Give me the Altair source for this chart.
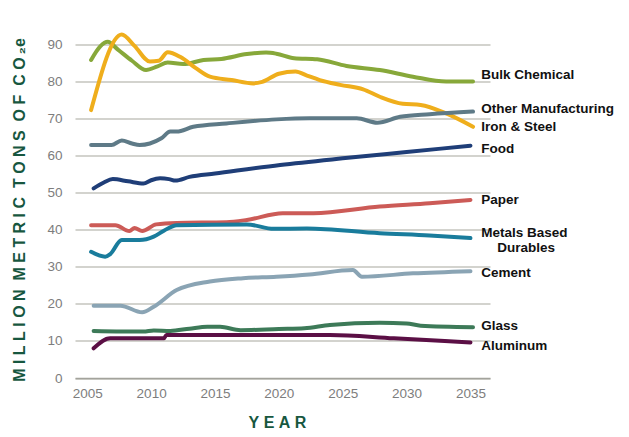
import altair as alt
import pandas as pd

# ---- data ----
series_names = ["Bulk Chemical", "Iron & Steel", "Other Manufacturing", "Food", "Paper",
                "Metals Based Durables", "Cement", "Glass", "Aluminum"]
series_colors = ["#87a83a", "#efae1c", "#5e7a87", "#1f3e78", "#cc5b57",
                 "#197c9c", "#8aa4b4", "#3d7a58", "#5b0f45"]

bulk_years = [2005.3, 2006.0, 2006.6, 2007.4, 2008.5, 2009.6, 2010.5, 2011.3, 2012.5, 2014.1, 2015.5,
              2017.5, 2019.0, 2019.8, 2021.2, 2023.0, 2025.3, 2027.9, 2030.5, 2033.1, 2035.2]
bulk_vals = [85.7, 89.3, 90.6, 88.5, 85.5, 83.0, 84.0, 85.0, 84.6, 85.7, 86.0,
             87.3, 87.7, 87.4, 86.2, 85.9, 84.1, 83.0, 81.2, 79.9, 79.9]

iron_years = [2005.3, 2007.7, 2008.7, 2009.9, 2010.6, 2011.3, 2012.3, 2013.5, 2014.6, 2016.3, 2018.0,
              2018.7, 2020.0, 2021.3, 2022.2, 2023.2, 2024.8, 2026.6, 2027.9, 2029.7, 2031.1, 2033.1, 2035.2]
iron_vals = [72.2, 92.6, 89.5, 85.3, 85.5, 87.8, 86.5, 83.5, 81.2, 80.3, 79.4,
             79.8, 82.0, 82.6, 81.5, 80.3, 79.0, 77.8, 75.8, 73.9, 73.6, 71.3, 67.7]

other_years = [2005.3, 2006.9, 2007.7, 2008.5, 2009.1, 2009.9, 2010.8, 2011.5, 2012.0, 2013.3, 2015.9,
               2019.8, 2022.4, 2026.1, 2027.7, 2029.5, 2031.8, 2035.2]
other_vals = [62.8, 62.8, 64.0, 63.2, 62.8, 63.2, 64.6, 66.4, 66.4, 67.7, 68.6,
              69.7, 70.0, 70.0, 68.8, 70.4, 71.1, 71.8]

food_years = [2005.5, 2006.3, 2007.0, 2008.2, 2009.4, 2010.0, 2010.7, 2011.4, 2011.9, 2013.0, 2015.0,
              2020.1, 2025.0, 2030.0, 2035.0]
food_vals = [51.1, 52.7, 53.6, 53.0, 52.4, 53.3, 53.8, 53.6, 53.2, 54.2, 55.1,
             57.4, 59.2, 60.9, 62.6]

paper_years = [2005.3, 2007.2, 2008.3, 2008.7, 2009.3, 2010.4, 2012.0, 2015.9, 2017.5, 2020.3, 2022.7,
               2027.9, 2031.8, 2035.0]
paper_vals = [41.2, 41.2, 39.6, 40.4, 39.6, 41.4, 41.8, 42.0, 42.6, 44.4, 44.4,
              46.2, 47.1, 48.0]

metals_years = [2005.3, 2006.4, 2006.8, 2007.7, 2009.1, 2010.2, 2011.0, 2012.0, 2017.5, 2019.6, 2022.2,
                2027.9, 2031.8, 2035.0]
metals_vals = [34.0, 32.7, 33.4, 37.2, 37.2, 38.1, 39.7, 41.2, 41.4, 40.2, 40.3,
               39.0, 38.4, 37.7]

cement_years = [2005.5, 2007.6, 2009.3, 2010.2, 2012.0, 2014.6, 2017.2, 2019.8, 2022.4, 2025.8, 2026.5,
                2030.5, 2035.0]
cement_vals = [19.5, 19.5, 17.7, 19.2, 23.7, 26.0, 26.9, 27.3, 27.9, 29.1, 27.3,
               28.2, 28.8]

glass_years = [2005.5, 2009.4, 2010.2, 2011.5, 2013.0, 2014.4, 2015.4, 2017.0, 2020.0, 2022.0, 2024.0,
               2027.9, 2030.0, 2031.1, 2035.2]
glass_vals = [12.7, 12.5, 12.8, 12.7, 13.3, 13.8, 13.8, 12.9, 13.2, 13.4, 14.3,
              14.9, 14.7, 14.1, 13.7]

alum_years = [2005.5, 2006.8, 2011.0, 2011.2, 2022.4, 2024.0, 2029.0, 2035.0]
alum_vals = [8.0, 10.7, 10.7, 11.6, 11.6, 11.6, 10.7, 9.6]

all_years = [bulk_years, iron_years, other_years, food_years, paper_years,
             metals_years, cement_years, glass_years, alum_years]
all_vals = [bulk_vals, iron_vals, other_vals, food_vals, paper_vals,
            metals_vals, cement_vals, glass_vals, alum_vals]

# end-of-line labels (text, year anchor, value anchor)
label_texts = ["Bulk Chemical", "Other Manufacturing", "Iron & Steel", "Food", "Paper",
               "Metals Based", "Durables", "Cement", "Glass", "Aluminum"]
label_years = [2035.85, 2035.85, 2035.85, 2035.85, 2035.85, 2035.85, 2037.1, 2035.85, 2035.85, 2035.85]
label_vals = [81.7, 72.4, 67.6, 61.7, 48.0, 39.2, 35.0, 28.2, 14.0, 8.6]

y_ticks = [0, 10, 20, 30, 40, 50, 60, 70, 80, 90]
x_ticks = [2005, 2010, 2015, 2020, 2025, 2030, 2035]

NB = "\u00a0"
y_title = (NB * 2).join(NB.join(list(w)) for w in ["MILLION", "METRIC", "TONS", "OF"]) \
    + NB * 2 + "C" + NB + "O" + "\u2009" + "\u2082" + "e"
x_title = NB.join(list("YEAR"))

rows = []
for name, ys, vs in zip(series_names, all_years, all_vals):
    for yr, v in zip(ys, vs):
        rows.append({"series": name, "year": yr, "value": v})
df = pd.DataFrame(rows)
lab = pd.DataFrame({"text": label_texts, "year": label_years, "value": label_vals})

FONT = "Liberation Sans, Arial, sans-serif"

x_scale = alt.Scale(domain=[2004.04, 2036.53], nice=False, zero=False)
y_scale = alt.Scale(domain=[0, 95], nice=False)

x_axis = alt.Axis(values=x_ticks, format="d", title=x_title, grid=False,
                  domain=True, domainColor="#a3a39c", domainWidth=1.5, ticks=False,
                  labelFont=FONT, labelFontSize=13.5, labelColor="#7d7d7d", labelPadding=8,
                  labelOverlap=False,
                  titleFont=FONT, titleFontSize=16, titleFontWeight="bold",
                  titleColor="#17573f", titleX=202, titleY=44, titleBaseline="middle",
                  titleAlign="center")
y_axis = alt.Axis(values=y_ticks, title=y_title, tickCount=10,
                  grid=True, gridColor="#c4c4be", gridWidth=1.5, domain=False, ticks=False,
                  labelFont=FONT, labelFontSize=13.5, labelColor="#7d7d7d", labelPadding=13,
                  labelOverlap=False,
                  titleFont=FONT, titleFontSize=16, titleFontWeight="bold",
                  titleColor="#17573f", titleAngle=270, titleX=-55.5, titleY=184,
                  titleAlign="center", titleBaseline="middle")

lines = alt.Chart(df).mark_line(
    interpolate="monotone", strokeWidth=4, strokeCap="round", strokeJoin="round"
).encode(
    x=alt.X("year:Q", scale=x_scale, axis=x_axis),
    y=alt.Y("value:Q", scale=y_scale, axis=y_axis),
    color=alt.Color("series:N", scale=alt.Scale(domain=series_names, range=series_colors), legend=None),
    detail="series:N",
)

labels = alt.Chart(lab).mark_text(
    align="left", baseline="middle", font=FONT, fontSize=13.5, fontWeight="bold", color="#111111"
).encode(
    x=alt.X("year:Q", scale=x_scale, axis=x_axis),
    y=alt.Y("value:Q", scale=y_scale, axis=y_axis),
    text="text:N",
)

chart = alt.layer(lines, labels).properties(
    width=415, height=352.5,
    padding={"left": 67, "top": 17.5, "right": 131, "bottom": 51},
    autosize=alt.AutoSizeParams(type="none"),
).configure_view(stroke=None)

chart.save("out.html", embed_options={"renderer": "svg", "actions": False})
